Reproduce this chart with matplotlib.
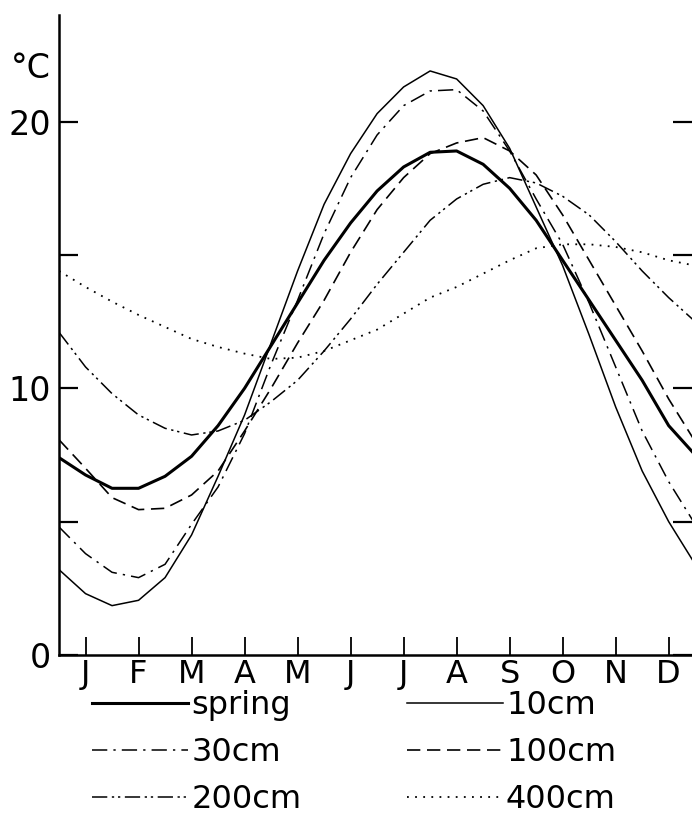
import numpy as np
import matplotlib
matplotlib.use("Agg")
import matplotlib.pyplot as plt

plt.rcParams['font.family'] = ['DejaVu Sans']

# half-month positions (0 = start of Jan, 12 = end of Dec)
month_x = [0, 0.5, 1, 1.5, 2, 2.5, 3, 3.5, 4, 4.5, 5, 5.5, 6, 6.5, 7, 7.5,
           8, 8.5, 9, 9.5, 10, 10.5, 11, 11.5, 12]
months = ['J', 'F', 'M', 'A', 'M', 'J', 'J', 'A', 'S', 'O', 'N', 'D']

spring = [7.4, 6.75, 6.25, 6.25, 6.7, 7.45, 8.6, 10.0, 11.6, 13.2, 14.8, 16.2,
          17.4, 18.3, 18.85, 18.9, 18.4, 17.5, 16.3, 14.8, 13.3, 11.8, 10.3, 8.6, 7.5]
cm10 = [3.2, 2.3, 1.85, 2.05, 2.9, 4.5, 6.7, 9.0, 11.7, 14.4, 16.9, 18.8,
        20.3, 21.3, 21.9, 21.6, 20.6, 19.0, 16.8, 14.6, 12.0, 9.3, 6.9, 5.0, 3.4]
cm30 = [4.8, 3.8, 3.1, 2.9, 3.4, 4.9, 6.3, 8.3, 10.9, 13.3, 15.8, 17.9,
        19.5, 20.6, 21.15, 21.2, 20.4, 18.9, 17.1, 15.4, 13.2, 10.8, 8.4, 6.5, 4.9]
cm100 = [8.07, 7.0, 5.9, 5.45, 5.5, 6.0, 6.9, 8.4, 10.0, 11.7, 13.3, 15.1,
         16.7, 17.9, 18.8, 19.2, 19.4, 18.9, 18.0, 16.5, 14.8, 13.1, 11.4, 9.6, 8.0]
cm200 = [12.1, 10.8, 9.8, 9.0, 8.5, 8.25, 8.4, 8.8, 9.5, 10.3, 11.4, 12.6,
         13.9, 15.1, 16.3, 17.1, 17.65, 17.9, 17.7, 17.2, 16.5, 15.5, 14.4, 13.4, 12.5]
cm400 = [14.4, 13.8, 13.25, 12.75, 12.3, 11.85, 11.55, 11.3, 11.1, 11.15, 11.4, 11.8,
         12.2, 12.8, 13.4, 13.8, 14.3, 14.8, 15.25, 15.4, 15.4, 15.3, 15.1, 14.8, 14.6]

fig = plt.figure(figsize=(6.92, 8.22), dpi=100)
ax = fig.add_axes([0.0853, 0.2032, 0.9147, 0.7786])

ax.plot(month_x, spring, color='black', lw=2.2, label='spring')
ax.plot(month_x, cm10, color='black', lw=1.1, label='10cm')
ax.plot(month_x, cm30, color='black', lw=1.1, ls=(0, (10, 4, 1.5, 4)), label='30cm')
ax.plot(month_x, cm100, color='black', lw=1.2, ls=(0, (8, 4)), label='100cm')
ax.plot(month_x, cm200, color='black', lw=1.1, ls=(0, (10, 3, 1.5, 2.5, 1.5, 3)), label='200cm')
ax.plot(month_x, cm400, color='black', lw=1.3, ls=(0, (1, 3.5)), label='400cm')

ax.set_xlim(0, 11.94)
ax.set_ylim(0, 24)
for s in ['top', 'right']:
    ax.spines[s].set_visible(False)
for s in ['left', 'bottom']:
    ax.spines[s].set_linewidth(1.8)

ax.set_xticks(np.arange(12) + 0.5)
ax.set_xticklabels(months, fontsize=23)
ax.tick_params(axis='x', direction='in', length=13, width=1.3, pad=3)
ax.set_yticks([0, 5, 10, 15, 20])
ax.set_yticklabels(['0', '', '10', '', '20'], fontsize=24)
ax.tick_params(axis='y', direction='in', length=14, width=1.6, pad=6,
               right=True)
ax.annotate('°C', xy=(-0.045, 22.0), xycoords=('axes fraction', 'data'),
            ha='center', va='center', fontsize=24)

h, l = ax.get_legend_handles_labels()
order = [0, 2, 4, 1, 3, 5]
fig.legend([h[i] for i in order], [l[i] for i in order], ncol=2,
           loc='upper left', bbox_to_anchor=(0.115, 0.176), frameon=False,
           fontsize=23, handlelength=3.0, handletextpad=0.1,
           columnspacing=3.3, labelspacing=0.5, borderaxespad=0)

fig.savefig('out.png', dpi=100)
